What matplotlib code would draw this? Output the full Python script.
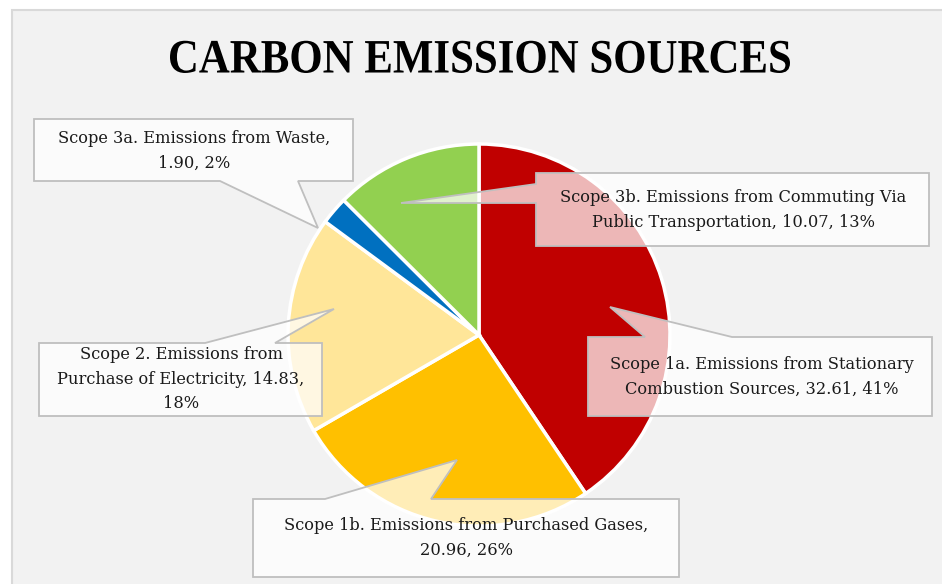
import matplotlib.pyplot as plt
from matplotlib.patches import Polygon, Rectangle, PathPatch
from matplotlib.textpath import TextPath
from matplotlib.font_manager import FontProperties
from matplotlib.transforms import Affine2D

# data
labels = ['Scope 1a. Emissions from Stationary Combustion Sources',
          'Scope 1b. Emissions from Purchased Gases',
          'Scope 2. Emissions from Purchase of Electricity',
          'Scope 3a. Emissions from Waste',
          'Scope 3b. Emissions from Commuting Via Public Transportation']
values = [32.61, 20.96, 14.83, 1.90, 10.07]
colors = ['#C00000', '#FFC000', '#FFE699', '#0070C0', '#92D050']

# callout text (as shown on the chart)
callout_text = [
    'Scope 1a. Emissions from Stationary\nCombustion Sources, 32.61, 41%',
    'Scope 1b. Emissions from Purchased Gases,\n20.96, 26%',
    'Scope 2. Emissions from\nPurchase of Electricity, 14.83,\n18%',
    'Scope 3a. Emissions from Waste,\n1.90, 2%',
    'Scope 3b. Emissions from Commuting Via\nPublic Transportation, 10.07, 13%',
]

W, H = 942, 584


def fy(y):
    # pixel row -> axes y (y up)
    return H - y


# callout outlines in pixel coords (box + pointer)
callouts = [
    [(588, 337), (645, 337), (610, 307), (732, 337), (932, 337), (932, 416), (588, 416)],
    [(253, 499), (325, 499), (457, 460), (431, 499), (679, 499), (679, 577), (253, 577)],
    [(39, 343), (205, 343), (334, 309), (275, 343), (322, 343), (322, 416), (39, 416)],
    [(34, 119), (353, 119), (353, 181), (298, 181), (318, 228), (220, 181), (34, 181)],
    [(536, 173), (929, 173), (929, 246), (536, 246), (536, 203), (401, 203), (536, 184)],
]
text_pos = [(762, 377), (466, 538), (181, 379), (194, 151), (733, 210)]

fig = plt.figure(figsize=(W / 100, H / 100), dpi=100)
fig.patch.set_facecolor('white')
ax = fig.add_axes([0, 0, 1, 1])

# chart area background
ax.add_patch(Rectangle((12, -5), W + 10, fy(10) + 5, facecolor='#F2F2F2',
                       edgecolor='#D9D9D9', linewidth=1.5, zorder=0))

ax.pie(values, colors=colors, startangle=90, counterclock=False,
       center=(479, fy(335)), radius=191, frame=True,
       wedgeprops=dict(edgecolor='white', linewidth=2.5))
ax.set_xlim(0, W)
ax.set_ylim(0, H)
ax.set_aspect('equal')
ax.axis('off')

# title: condensed bold serif
tp = TextPath((0, 0), 'CARBON EMISSION SOURCES', size=48,
              prop=FontProperties(family='Liberation Serif', weight='bold'))
bb = tp.get_extents()
sx = 620 / bb.width
tr = Affine2D().translate(-bb.x0 - bb.width / 2, -bb.y0).scale(sx, 1.0) \
    .translate(480, fy(73)) + ax.transData
ax.add_patch(PathPatch(tp, facecolor='black', edgecolor='none', transform=tr))

for pts, txt, (tx, ty) in zip(callouts, callout_text, text_pos):
    poly = Polygon([(x, fy(y)) for x, y in pts], closed=True,
                   facecolor=(1, 1, 1, 0.72), edgecolor='#BFBFBF',
                   linewidth=1.3, zorder=5)
    ax.add_patch(poly)
    ax.text(tx, fy(ty), txt, ha='center', va='center', fontsize=11.7,
            family='DejaVu Serif', color='#1a1a1a', linespacing=1.6, zorder=6)

fig.savefig('out.png', dpi=100, facecolor=fig.get_facecolor())
